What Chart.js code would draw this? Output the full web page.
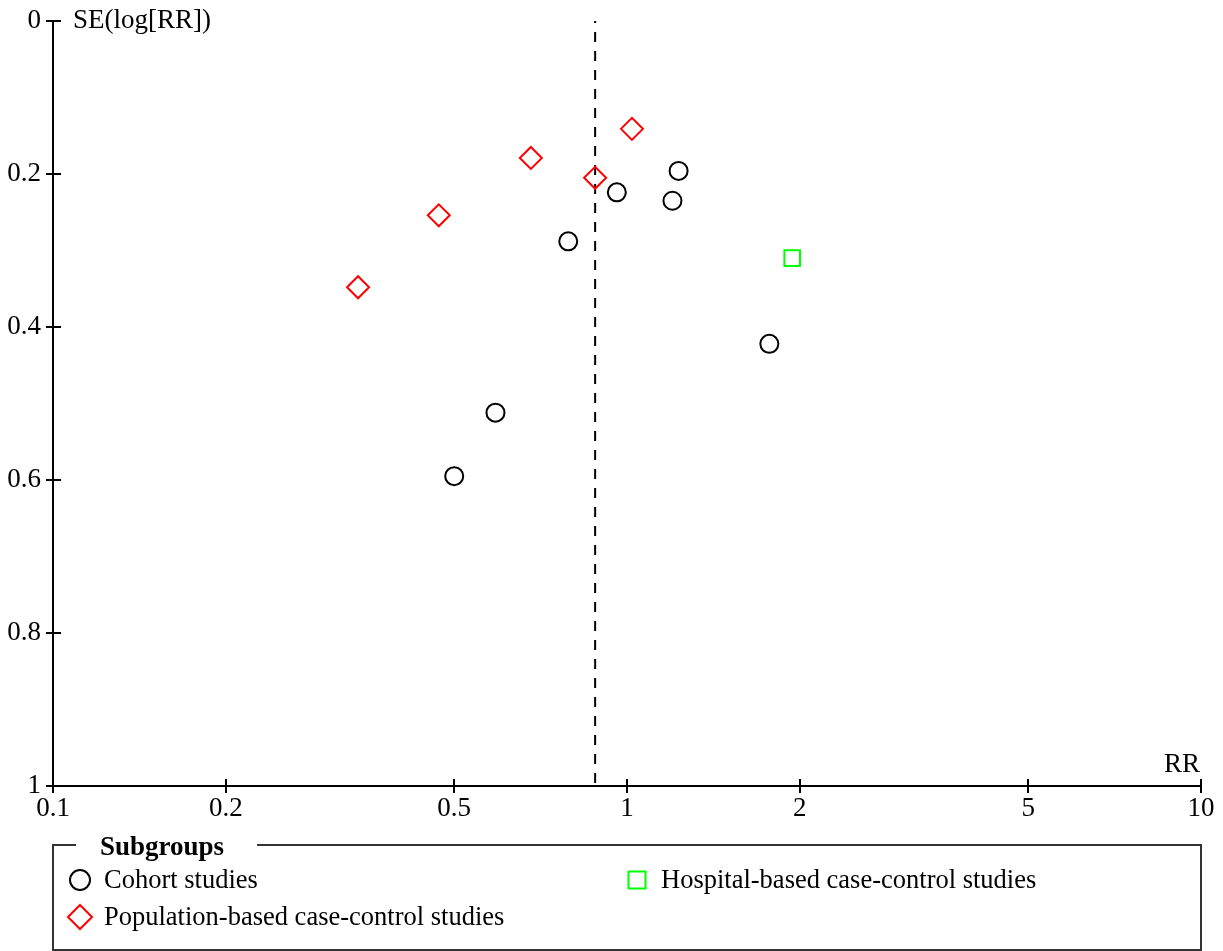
<!DOCTYPE html>
<html>
<head>
<meta charset="utf-8">
<script src="https://cdn.jsdelivr.net/npm/chart.js@4.4.0/dist/chart.umd.min.js"></script>
<style>
    body { margin: 0; background: #fff; }
    #wrap { width: 1223px; height: 951px; position: relative; }
</style>
</head>
<body>
<div id="wrap"><canvas id="funnel"></canvas></div>
<script>
// values
const cohortRR = [1.23, 0.96, 1.20, 0.79, 1.77, 0.59, 0.50];
const cohortSE = [0.196, 0.224, 0.235, 0.288, 0.422, 0.512, 0.595];
const popRR = [1.02, 0.68, 0.88, 0.47, 0.34];
const popSE = [0.141, 0.179, 0.205, 0.254, 0.348];
const hospRR = [1.94];
const hospSE = [0.310];
const pooledRR = 0.88;
const pooledSE = [0, 1];

const xTicks = [0.1, 0.2, 0.5, 1, 2, 5, 10];
const yTicks = [0, 0.2, 0.4, 0.6, 0.8, 1];

const FONT = 'Liberation Serif';
const FSIZE = 27;
const LEGEND_FSIZE = 26.5;

function toPoints(xs, ys) {
    return xs.map((v, i) => ({ x: v, y: ys[i] }));
}

function noPad(scale) {
    scale.paddingTop = 0;
    scale.paddingBottom = 0;
    scale.paddingLeft = 0;
    scale.paddingRight = 0;
}

// axis ticks crossing the axis lines, titles and the boxed legend
const decor = {
    id: 'decor',
    afterDraw(chart) {
        const { ctx, chartArea: a, scales: { x, y } } = chart;
        ctx.save();
        ctx.strokeStyle = '#000';
        ctx.lineWidth = 2;
        ctx.beginPath();
        xTicks.forEach(v => {
            const px = Math.round(x.getPixelForValue(v));
            ctx.moveTo(px, a.bottom - 7);
            ctx.lineTo(px, a.bottom + 7);
        });
        yTicks.forEach(v => {
            const py = Math.round(y.getPixelForValue(v));
            ctx.moveTo(a.left - 7, py);
            ctx.lineTo(a.left + 8, py);
        });
        ctx.stroke();

        ctx.fillStyle = '#000';
        ctx.font = FSIZE + 'px "' + FONT + '"';
        ctx.textBaseline = 'middle';
        ctx.textAlign = 'left';
        ctx.fillText('SE(log[RR])', a.left + 20, a.top);
        ctx.textAlign = 'right';
        ctx.textBaseline = 'alphabetic';
        ctx.fillText('RR', a.right - 1, a.bottom - 14);

        // legend box
        const top = 845, bottom = 950, left = a.left, right = a.right;
        ctx.font = 'bold ' + FSIZE + 'px "' + FONT + '"';
        ctx.textAlign = 'left';
        const title = 'Subgroups';
        const tw = ctx.measureText(title).width;
        ctx.fillText(title, left + 47, top + 10);
        ctx.strokeStyle = '#333';
        ctx.lineWidth = 2;
        ctx.beginPath();
        ctx.moveTo(left + 23, top);
        ctx.lineTo(left, top);
        ctx.lineTo(left, bottom);
        ctx.lineTo(right, bottom);
        ctx.lineTo(right, top);
        ctx.lineTo(left + 47 + tw + 33, top);
        ctx.stroke();

        ctx.font = LEGEND_FSIZE + 'px "' + FONT + '"';
        ctx.textBaseline = 'middle';
        const items = chart.data.datasets.filter(d => d.inLegend);
        items.forEach((d, i) => {
            const col = Math.floor(i / 2), row = i % 2;
            const cx = left + 27 + col * 557;
            const cy = 880 + row * 37;
            ctx.strokeStyle = d.borderColor;
            ctx.lineWidth = 2;
            ctx.beginPath();
            if (d.pointStyle === 'circle') {
                ctx.arc(cx, cy, 10, 0, Math.PI * 2);
            } else if (d.pointStyle === 'rectRot') {
                ctx.moveTo(cx - 12, cy);
                ctx.lineTo(cx, cy - 12);
                ctx.lineTo(cx + 12, cy);
                ctx.lineTo(cx, cy + 12);
                ctx.closePath();
            } else {
                ctx.rect(cx - 8.5, cy - 8.5, 17, 17);
            }
            ctx.stroke();
            ctx.fillStyle = '#000';
            ctx.fillText(d.label, cx + 24, cy + 1);
        });
        ctx.restore();
    }
};

const ctx = document.getElementById('funnel').getContext('2d');

const funnel = new Chart(ctx, {
    type: 'scatter',
    data: {
        datasets: [{
            label: 'Cohort studies',
            inLegend: true,
            data: toPoints(cohortRR, cohortSE),
            pointStyle: 'circle',
            pointRadius: 9,
            borderColor: '#000000',
            backgroundColor: 'rgba(0,0,0,0)',
            borderWidth: 2
        }, {
            label: 'Population-based case-control studies',
            inLegend: true,
            data: toPoints(popRR, popSE),
            pointStyle: 'rectRot',
            pointRadius: 11,
            borderColor: '#ff0000',
            backgroundColor: 'rgba(0,0,0,0)',
            borderWidth: 2
        }, {
            label: 'Hospital-based case-control studies',
            inLegend: true,
            data: toPoints(hospRR, hospSE),
            pointStyle: 'rect',
            pointRadius: 11,
            borderColor: '#00ff00',
            backgroundColor: 'rgba(0,0,0,0)',
            borderWidth: 2
        }, {
            label: 'Pooled',
            inLegend: false,
            data: pooledSE.map(s => ({ x: pooledRR, y: s })),
            showLine: true,
            pointRadius: 0,
            borderColor: '#000000',
            borderWidth: 2,
            borderDash: [10, 9],
            borderDashOffset: 8
        }]
    },
    options: {
        responsive: true,
        maintainAspectRatio: false,
        animation: false,
        layout: { padding: { top: 21, right: 22, bottom: 0, left: 0 } },
        plugins: {
            legend: { display: false },
            tooltip: { enabled: false }
        },
        scales: {
            x: {
                type: 'logarithmic',
                position: 'bottom',
                min: 0.1,
                max: 10,
                afterBuildTicks: scale => {
                    scale.ticks = xTicks.map(v => ({ value: v }));
                },
                afterFit: scale => {
                    scale.height = 165;
                    noPad(scale);
                },
                grid: { display: false, drawTicks: false, tickLength: 0 },
                border: { display: true, color: '#000', width: 2 },
                ticks: {
                    color: '#000',
                    padding: 7,
                    maxRotation: 0,
                    font: { family: FONT, size: FSIZE },
                    callback: v => String(v)
                }
            },
            y: {
                type: 'linear',
                reverse: true,
                min: 0,
                max: 1,
                afterBuildTicks: scale => {
                    scale.ticks = yTicks.map(v => ({ value: v }));
                },
                afterFit: scale => {
                    scale.width = 53;
                    noPad(scale);
                },
                grid: { display: false, drawTicks: false, tickLength: 0 },
                border: { display: true, color: '#000', width: 2 },
                ticks: {
                    color: '#000',
                    padding: 12,
                    font: { family: FONT, size: FSIZE },
                    callback: v => String(v)
                }
            }
        }
    },
    plugins: [decor]
});
</script>
</body>
</html>
